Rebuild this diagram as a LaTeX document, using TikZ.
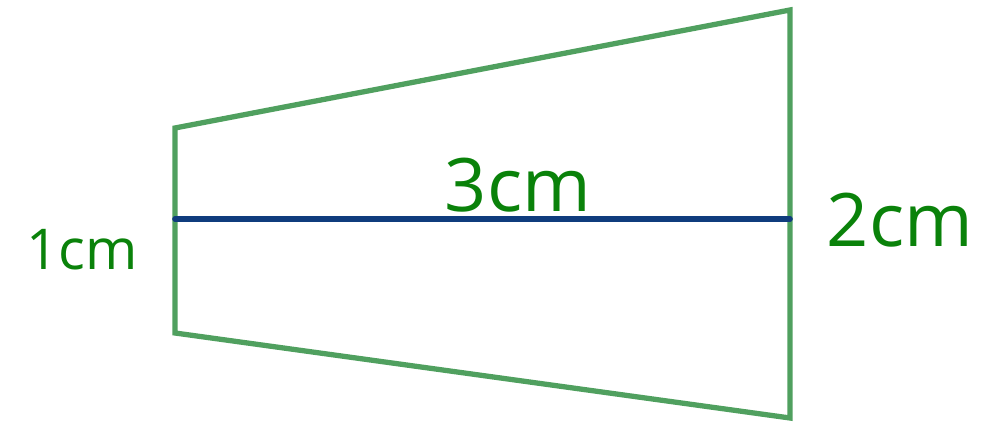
\documentclass[tikz,border=0pt]{standalone}
\usepackage{fontspec}
\setmainfont{Open Sans}
\definecolor{edgegreen}{RGB}{80,160,95}
\definecolor{labelgreen}{RGB}{10,130,10}
\definecolor{midblue}{RGB}{15,60,125}
\begin{document}
\begin{tikzpicture}[x=0.01cm,y=-0.01cm,
  edge/.style={draw=edgegreen,line width=1.5pt,line join=miter},
  midline/.style={draw=midblue,line width=1.6pt,line cap=round},
  lbl/.style={text=labelgreen,font=\fontsize{21}{24}\selectfont,inner sep=0pt}]
\useasboundingbox (0,0) rectangle (1000,425);
\coordinate (tl) at (175,128);
\coordinate (bl) at (175,333);
\coordinate (tr) at (790,10);
\coordinate (br) at (790,418);
\coordinate (ml) at (175,219);
\coordinate (mr) at (790,219);
\draw[edge] (tl) -- (tr) -- (br) -- (bl) -- cycle;
\draw[midline] (ml) -- (mr);
\node[lbl,font=\fontsize{16}{20}\selectfont] (l1) at (82,250) {1cm};
\node[lbl] (l3) at (518,185) {3cm};
\node[lbl] (l2) at (900,220) {2cm};
\end{tikzpicture}
\end{document}
